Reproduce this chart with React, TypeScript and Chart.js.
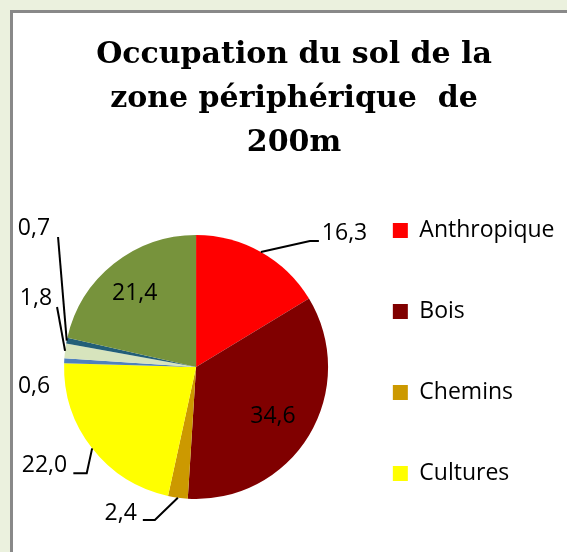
import React, { useEffect, useRef } from "react";
import { Chart, registerables } from "chart.js";

Chart.register(...registerables);

// ---- data ----
const categories = ["Anthropique", "Bois", "Chemins", "Cultures", "Eau", "Friches", "Haies", "Prairies"];
const occupation = [16.3, 34.6, 2.4, 22.0, 0.6, 1.8, 0.7, 21.4];
const titleLines = ["Occupation du sol de la", "zone périphérique  de", "200m"];
const legendVisibleCount = 4;

// ---- styles ----
const sliceColors = ["#FF0000", "#800000", "#CC9900", "#FFFF00", "#4F81BD", "#D7E4BD", "#235F78", "#77933C"];

// label placement relative to the outer-edge midpoint of each slice
type Placement = { dx: number; dy: number; align: CanvasTextAlign; leader: [number, number][] };
const labelPlacement: Placement[] = [
  { dx: 61, dy: -18.5, align: "left", leader: [[49, -11], [58, -11]] },
  { dx: -36, dy: -18.5, align: "center", leader: [] },
  { dx: -41, dy: 15.5, align: "right", leader: [[-23, 22.3], [-35, 22.3]] },
  { dx: -25, dy: 16.6, align: "right", leader: [[-5.4, 24.9], [-18.8, 24.9]] },
  { dx: -14, dy: 25.2, align: "right", leader: [] },
  { dx: -13, dy: -52.8, align: "right", leader: [[-8, -43.8]] },
  { dx: -16.7, dy: -112.6, align: "right", leader: [[-8.7, -103.6]] },
  { dx: 21, dy: 30, align: "center", leader: [] },
];

const fmt = (v: number) => v.toFixed(1).replace(".", ",");

const sliceLabels = {
  id: "sliceLabels",
  afterDatasetsDraw(chart: any) {
    const ctx = chart.ctx as CanvasRenderingContext2D;
    const meta = chart.getDatasetMeta(0);
    const values = chart.data.datasets[0].data as number[];
    ctx.save();
    ctx.font = '23px "Open Sans"';
    ctx.fillStyle = "#000";
    ctx.strokeStyle = "#000";
    ctx.lineWidth = 2;
    meta.data.forEach((arc: any, i: number) => {
      const { x, y, startAngle, endAngle, outerRadius } = arc.getProps(
        ["x", "y", "startAngle", "endAngle", "outerRadius"],
        true
      );
      const mid = (startAngle + endAngle) / 2;
      const ex = x + Math.cos(mid) * outerRadius;
      const ey = y + Math.sin(mid) * outerRadius;
      const p = labelPlacement[i];
      if (p.leader.length) {
        ctx.beginPath();
        ctx.moveTo(ex, ey);
        p.leader.forEach(([dx, dy]) => ctx.lineTo(ex + dx, ey + dy));
        ctx.stroke();
      }
      ctx.textAlign = p.align;
      ctx.textBaseline = "middle";
      ctx.fillText(fmt(values[i]), ex + p.dx, ey + p.dy);
    });
    ctx.restore();
  },
};

export default function App() {
  const canvasRef = useRef<HTMLCanvasElement | null>(null);

  useEffect(() => {
    if (!canvasRef.current) return;
    const chart = new Chart(canvasRef.current, {
      type: "pie",
      data: {
        labels: categories,
        datasets: [
          {
            data: occupation,
            backgroundColor: sliceColors,
            borderWidth: 0,
            radius: 132,
          } as any,
        ],
      },
      options: {
        responsive: false,
        maintainAspectRatio: false,
        devicePixelRatio: 1,
        animation: false,
        layout: { padding: { left: 23.5, right: 2.5, top: 0, bottom: 9 } },
        scales: {
          spacer: {
            type: "linear",
            position: "left",
            display: false,
            afterFit: (scale: any) => {
              scale.width = 33.8;
            },
          },
        } as any,
        plugins: {
          title: {
            display: true,
            text: titleLines,
            color: "#000",
            font: { family: "'DejaVu Serif', serif", weight: "bold", size: 30, lineHeight: "44px" },
            padding: { top: 33.6, bottom: 25.4 },
          },
          legend: {
            display: true,
            position: "right",
            align: "end",
            maxWidth: 400,
            labels: {
              color: "#000",
              font: { family: "'Open Sans', sans-serif", size: 23 },
              boxWidth: 15,
              boxHeight: 15,
              padding: 58,
              filter: (item: any) => item.index < legendVisibleCount,
            },
          },
          tooltip: { enabled: false },
        },
      },
      plugins: [sliceLabels],
    });
    return () => chart.destroy();
  }, []);

  return (
    <div
      style={{
        position: "fixed",
        left: 0,
        top: 0,
        width: 567,
        height: 552,
        overflow: "hidden",
        background: "#EBF1DE",
      }}
    >
      <div
        style={{
          position: "absolute",
          left: 10,
          top: 10,
          width: 620,
          height: 620,
          boxSizing: "border-box",
          border: "3px solid #898989",
          background: "#FFFFFF",
        }}
      />
      <canvas
        ref={canvasRef}
        width={567}
        height={552}
        style={{ position: "absolute", left: 0, top: 0, width: 567, height: 552 }}
      />
    </div>
  );
}
